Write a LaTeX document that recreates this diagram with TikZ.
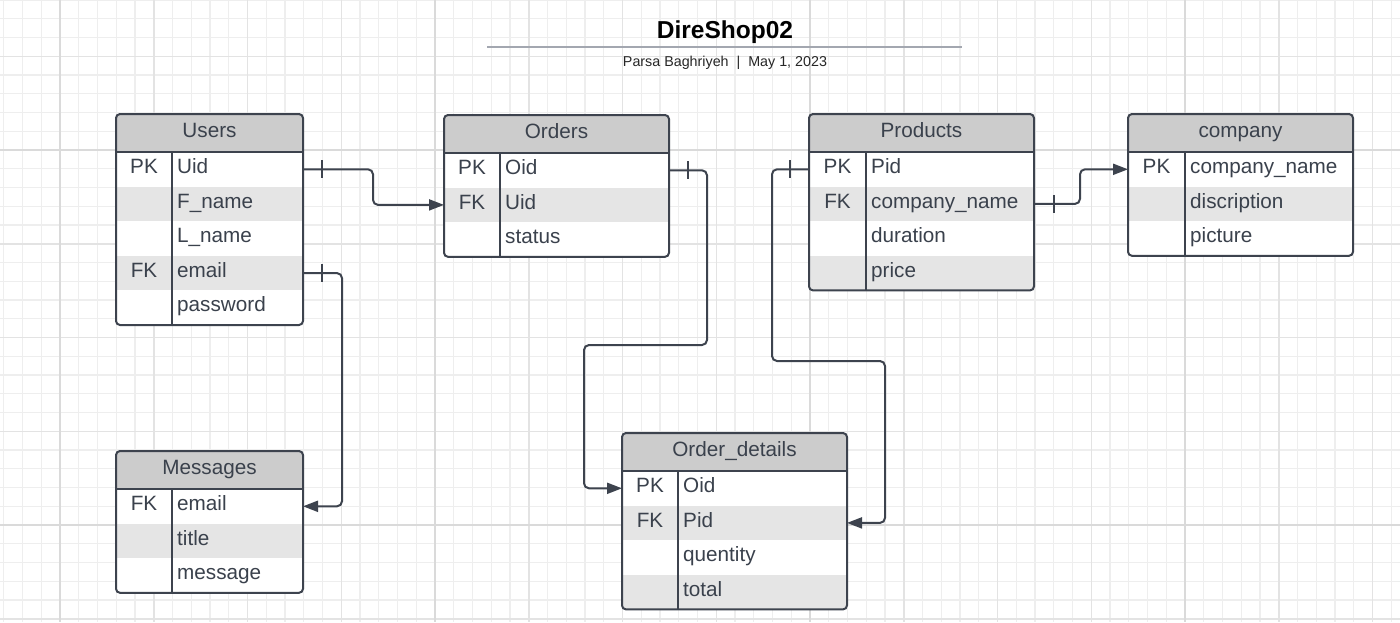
\documentclass[tikz,border=0pt]{standalone}
\usepackage{fontspec}
\setmainfont{Liberation Sans}
\usetikzlibrary{arrows.meta,calc}
\definecolor{ink}{HTML}{3D434E}
\definecolor{txt}{HTML}{3A414C}
\definecolor{headfill}{HTML}{CCCCCC}
\definecolor{shade}{HTML}{E5E5E5}
\definecolor{gminor}{HTML}{EEEEEE}
\definecolor{gmid}{HTML}{E3E3E3}
\definecolor{gmajor}{HTML}{DADADA}
\definecolor{rulec}{HTML}{A3A7B0}
\tikzset{
  rowbox/.style={rectangle, draw=none, anchor=north west, inner sep=0pt, outer sep=0pt, minimum height=34.6pt},
  keytext/.style={anchor=base, inner sep=0pt, text=txt, font=\fontsize{20.7}{24}\selectfont},
  fieldtext/.style={anchor=base west, inner sep=0pt, text=txt, font=\fontsize{20.7}{24}\selectfont},
  headtext/.style={anchor=base, inner sep=0pt, text=txt, font=\fontsize{20.7}{24}\selectfont},
  tabline/.style={draw=ink, line width=2pt},
  conn/.style={draw=ink, line width=2pt, rounded corners=5pt},
  arr/.style={-{Triangle[length=15pt,width=11pt]}},
  tickmark/.style={draw=ink, line width=2pt},
}
% #1 name #2 x #3 y #4 width #5 key width #6 rows #7 title #8 rows list
\newcommand{\erdtab}[8]{%
  \pgfmathsetmacro{\tabH}{38+#6*34.6}%
  \begin{scope}
    \clip[rounded corners=4pt] (#2,#3) rectangle ++(#4,\tabH);
    \fill[headfill] (#2,#3) rectangle ++(#4,38);
    \foreach \k/\f [count=\i] in {#8} {%
      \pgfmathsetmacro{\yy}{#3+38+(\i-1)*34.6}%
      \ifodd\i\relax\def\rf{white}\else\def\rf{shade}\fi
      \node[rowbox, fill=\rf, minimum width=#4pt] (#1-\i) at (#2,\yy) {};
      \node[keytext] (#1-k\i) at ({#2+#5/2},{\yy+21.5}) {\k};
      \node[fieldtext] (#1-f\i) at ({#2+#5+5},{\yy+21.5}) {\f};
    }
  \end{scope}
  \node[headtext] (#1-h) at ({#2+#4/2},{#3+23.5}) {#7};
  \draw[tabline] ({#2},{#3+38}) -- ++(#4,0);
  \draw[tabline] ({#2+#5},{#3+38}) -- ({#2+#5},{#3+\tabH});
  \draw[tabline, rounded corners=4pt] (#2,#3) rectangle ++(#4,\tabH);
}
\begin{document}
\begin{tikzpicture}[x=1pt,y=-1pt]
\useasboundingbox (0,0) rectangle (1400,622);
\fill[white] (0,0) rectangle (1400,622);
% grid
\foreach \i in {-3,...,71} \draw[gminor, line width=1.2pt] ({60+\i*18.75},0) -- ({60+\i*18.75},622);
\foreach \j in {-8,...,25} \draw[gminor, line width=1.2pt] (0,{150+\j*18.75}) -- (1400,{150+\j*18.75});
\foreach \i in {0,...,14} \draw[gmid, line width=1.5pt] ({60+\i*93.75},0) -- ({60+\i*93.75},622);
\foreach \j in {-1,...,5} \draw[gmid, line width=1.5pt] (0,{150+\j*93.75}) -- (1400,{150+\j*93.75});
\foreach \i in {0,...,3} \draw[gmajor, line width=2pt] ({60+\i*375},0) -- ({60+\i*375},622);
\foreach \j in {0,1} \draw[gmajor, line width=2pt] (0,{150+\j*375}) -- (1400,{150+\j*375});
% title
\node[anchor=base, inner sep=0pt, font=\fontsize{24.5}{28}\selectfont\bfseries] (title) at (725,38) {DireShop02};
\draw[rulec, line width=2pt] (487,46.5) -- (962,46.5);
\node[anchor=base, inner sep=0pt, font=\fontsize{14.3}{17}\selectfont, text=black!85] (sub) at (725,66) {Parsa Baghriyeh~~|~~May 1, 2023};
% tables
\erdtab{users}{116}{114}{187}{56}{5}{Users}{PK/Uid, /F\_name, /L\_name, FK/email, /password}
\erdtab{orders}{444}{115}{225}{56}{3}{Orders}{PK/Oid, FK/Uid, /status}
\erdtab{products}{809}{114}{225}{57}{4}{Products}{PK/Pid, FK/company\_name, /duration, /price}
\erdtab{company}{1128}{114}{225}{57}{3}{company}{PK/company\_name, /discription, /picture}
\erdtab{messages}{116}{451}{187}{56}{3}{Messages}{FK/email, /title, /message}
\erdtab{odet}{622}{433}{225}{56}{4}{Order\_details}{PK/Oid, FK/Pid, /quentity, /total}
% connectors
\coordinate (c3a) at (707,345);
\coordinate (c3b) at ($(odet-1.west)+(-38,0)$);
\coordinate (c4a) at (772,361);
\coordinate (c4b) at ($(odet-2.east)+(38,0)$);
\draw[conn,arr] (users-1.east) -- ++(70,0) |- (orders-2.west);
\draw[conn,arr] (users-4.east) -- ++(39,0) |- (messages-1.east);
\draw[conn,arr] (orders-1.east) -| (c3a) -| (c3b) -- (odet-1.west);
\draw[conn,arr] (products-1.west) -| (c4a) -| (c4b) -- (odet-2.east);
\draw[conn,arr] (products-2.east) -- ++(46,0) |- (company-1.west);
% one-marks
\draw[tickmark] ($(users-1.east)+(19,-9)$) -- ++(0,18);
\draw[tickmark] ($(users-4.east)+(19,-9)$) -- ++(0,18);
\draw[tickmark] ($(orders-1.east)+(19,-9)$) -- ++(0,18);
\draw[tickmark] ($(products-1.west)+(-19,-9)$) -- ++(0,18);
\draw[tickmark] ($(products-2.east)+(20,-9)$) -- ++(0,18);
\end{tikzpicture}
\end{document}
